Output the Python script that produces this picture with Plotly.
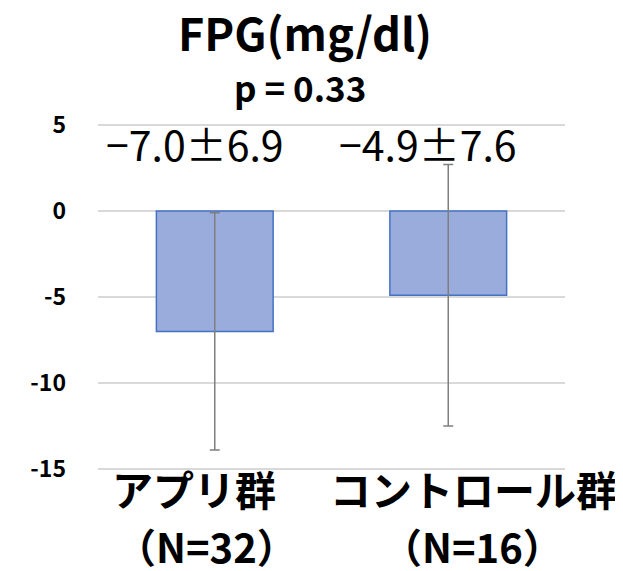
import plotly.graph_objects as go

categories = ["アプリ群", "コントロール群"]
label_line1 = ["アプリ群", "コントロール群"]
label_line2 = ["（N=32）", "（N=16）"]
means = [-7.0, -4.9]
sds = [6.9, 7.6]
value_labels = ["−7.0±6.9", "−4.9±7.6"]
y_ticks = [5, 0, -5, -10, -15]
title_text = "FPG(mg/dl)"
p_text = "p = 0.33"

JP = "Noto Sans CJK JP"

fig = go.Figure()
fig.add_trace(go.Bar(
    x=categories, y=means,
    marker=dict(color="#99acdb", line=dict(color="#4472c4", width=1.5)),
    error_y=dict(type="data", array=sds, visible=True, color="#7f7f7f",
                 thickness=1.5, width=5),
    width=0.5,
))

for cat, lab in zip(categories, value_labels):
    fig.add_annotation(x=cat, y=3.95, xref="x", yref="y", text=lab,
                       showarrow=False, xshift=-20, yanchor="middle",
                       font=dict(family=JP, size=41, color="#000000"))

shift1 = [-21, 25]
shift2 = [-8, 24]
for cat, l1, l2, s1, s2 in zip(categories, label_line1, label_line2, shift1, shift2):
    fig.add_annotation(x=cat, y=-0.052, xref="x", yref="paper", text=l1,
                       showarrow=False, xshift=s1, yanchor="middle",
                       font=dict(family=JP, size=41, color="#000000", weight="bold"))
    fig.add_annotation(x=cat, y=-0.22, xref="x", yref="paper", text=l2,
                       showarrow=False, xshift=s2, yanchor="middle",
                       font=dict(family=JP, size=40, color="#000000", weight="bold"))

fig.add_annotation(x=0.443, y=1.268, xref="paper", yref="paper", text=title_text,
                   showarrow=False, xanchor="center", yanchor="middle",
                   font=dict(family=JP, size=45, color="#000000", weight="bold"))
fig.add_annotation(x=0.4325, y=1.108, xref="paper", yref="paper", text=p_text,
                   showarrow=False, xanchor="center", yanchor="middle",
                   font=dict(family=JP, size=35, color="#000000", weight="bold"))

fig.update_layout(
    width=615, height=563,
    margin=dict(l=90, r=58, t=116, b=101),
    paper_bgcolor="white", plot_bgcolor="white",
    showlegend=False,
    xaxis=dict(showticklabels=False, showgrid=False, showline=False, zeroline=False,
               range=[-0.5, 1.5]),
    yaxis=dict(range=[-15.06, 5.06], tickvals=y_ticks, ticktext=[str(v) for v in y_ticks],
               showgrid=True, gridcolor="#d9d9d9", gridwidth=1.5,
               zeroline=True, zerolinecolor="#d9d9d9", zerolinewidth=1.5,
               showline=False, ticks="", ticklabelstandoff=31,
               tickfont=dict(family=JP, size=23, color="#000000", weight="bold")),
)

fig.write_html("out.html")
